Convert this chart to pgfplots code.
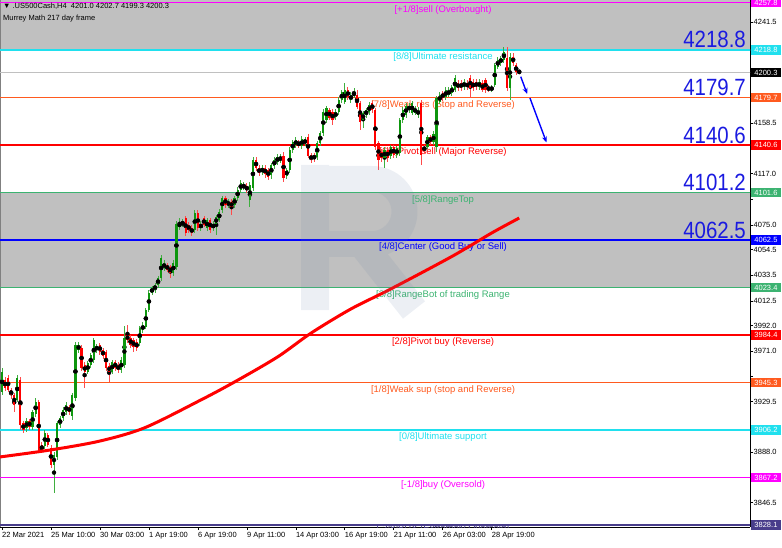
\documentclass[border=0pt]{standalone}
\usepackage{fontspec}
\setmainfont{Liberation Sans}
\newfontfamily\bignum[FakeStretch=0.87]{Liberation Sans}
\usepackage{pgfplots}
\pgfplotsset{compat=1.18}
\usepackage{pgfplotstable}
\usetikzlibrary{arrows.meta}

\definecolor{mmMag}{HTML}{FF00FF}
\definecolor{mmCyan}{HTML}{20E0EE}
\definecolor{mmOrange}{HTML}{FF5A1F}
\definecolor{mmRed}{HTML}{FF0000}
\definecolor{mmGreen}{HTML}{3CB371}
\definecolor{mmBlue}{HTML}{0000FF}
\definecolor{mmSlate}{HTML}{483D8B}
\definecolor{bandGray}{HTML}{C0C0C0}
\definecolor{bull}{HTML}{0E960E}
\definecolor{bullwick}{HTML}{3FAE3F}
\definecolor{bear}{HTML}{FF0000}
\definecolor{bearwick}{HTML}{FF4A4A}
\definecolor{bigBlue}{HTML}{1A1AE0}
\definecolor{wmark}{HTML}{6F86A8}

% H4 candles: bar index, open, high, low, close
\pgfplotstableread{
i o h l c
0 3937.5 3957.3 3935.1 3954.0
1 3947.4 3949.5 3938.5 3940.8
2 3949.0 3951.5 3937.5 3939.2
3 3939.2 3941.0 3932.0 3935.1
4 3935.1 3937.0 3921.1 3926.9
5 3931.0 3951.5 3929.0 3949.0
6 3947.4 3950.0 3906.3 3910.4
7 3912.0 3914.0 3904.0 3906.3
8 3907.9 3916.0 3905.0 3913.7
9 3913.7 3915.0 3906.0 3908.8
10 3908.8 3923.0 3906.0 3921.1
11 3919.4 3932.6 3917.0 3929.3
12 3929.3 3931.0 3888.2 3889.8
13 3894.0 3896.0 3887.0 3889.8
14 3893.1 3906.0 3891.0 3903.8
15 3902.1 3904.0 3892.0 3894.0
16 3891.5 3894.0 3875.0 3877.5
17 3877.5 3888.0 3854.5 3885.7
18 3884.1 3914.0 3882.0 3912.0
19 3910.4 3918.0 3908.0 3916.2
20 3916.2 3925.0 3914.0 3922.7
21 3921.1 3929.0 3919.0 3926.9
22 3925.2 3927.0 3919.0 3921.1
23 3917.8 3937.0 3914.5 3935.1
24 3932.6 3978.6 3930.0 3976.2
25 3972.1 3979.0 3970.0 3976.2
26 3973.7 3976.0 3955.0 3957.3
27 3959.7 3962.0 3940.8 3954.0
28 3954.0 3963.0 3952.0 3961.4
29 3959.7 3970.0 3957.0 3968.0
30 3963.8 3981.9 3961.0 3980.3
31 3972.1 3977.0 3970.0 3975.3
32 3976.2 3978.0 3968.0 3970.4
33 3972.1 3974.0 3965.0 3967.1
34 3970.4 3972.0 3955.0 3957.3
35 3958.9 3961.0 3945.8 3954.0
36 3954.0 3964.0 3952.0 3962.2
37 3962.2 3964.0 3955.0 3957.3
38 3959.7 3962.0 3953.0 3955.6
39 3955.6 3966.0 3953.0 3963.8
40 3959.7 3991.8 3957.0 3981.9
41 3984.4 3992.6 3978.0 3980.3
42 3981.9 3984.0 3974.0 3976.2
43 3980.3 3982.0 3970.4 3974.5
44 3978.6 3981.0 3971.0 3973.7
45 3977.8 3992.0 3975.0 3990.2
46 3988.5 3995.0 3986.0 3992.6
47 3991.0 4007.0 3989.0 4005.0
48 4005.0 4021.0 4003.0 4018.9
49 4018.9 4025.0 4017.0 4023.2
50 4021.4 4027.0 4019.0 4025.5
51 4025.5 4033.0 4023.0 4031.3
52 4031.3 4050.2 4029.0 4047.7
53 4039.5 4046.0 4037.0 4043.6
54 4042.0 4044.0 4036.0 4037.9
55 4040.3 4042.0 4031.3 4035.4
56 4035.4 4046.0 4033.0 4043.6
57 4040.3 4078.0 4038.0 4075.7
58 4073.2 4080.6 4071.0 4076.5
59 4074.9 4080.0 4073.0 4077.3
60 4080.6 4082.3 4065.8 4068.3
61 4074.9 4077.0 4068.0 4070.8
62 4072.4 4075.0 4065.8 4068.3
63 4070.8 4087.0 4068.0 4084.7
64 4084.7 4087.0 4070.0 4072.4
65 4072.4 4078.0 4070.0 4075.7
66 4080.6 4082.0 4073.0 4074.9
67 4072.4 4081.0 4070.0 4079.0
68 4079.0 4081.0 4068.0 4070.8
69 4072.4 4078.0 4070.0 4075.7
70 4075.7 4083.0 4066.7 4081.4
71 4079.0 4088.0 4077.0 4085.6
72 4087.2 4099.0 4085.0 4097.1
73 4097.1 4099.0 4089.0 4091.3
74 4091.3 4096.0 4089.0 4093.8
75 4093.8 4096.0 4083.1 4089.7
76 4091.3 4099.0 4089.0 4097.1
77 4097.1 4106.0 4095.0 4103.6
78 4103.6 4112.0 4101.0 4109.4
79 4106.1 4110.0 4104.0 4107.0
80 4107.0 4109.0 4101.0 4103.6
81 4095.4 4110.0 4089.7 4107.8
82 4105.3 4131.0 4103.0 4128.3
83 4128.3 4131.0 4119.0 4121.7
84 4121.7 4124.0 4115.0 4117.6
85 4118.4 4124.0 4116.0 4121.7
86 4121.7 4124.0 4113.5 4116.8
87 4120.1 4122.0 4112.0 4114.3
88 4116.0 4126.0 4113.0 4124.2
89 4123.4 4131.0 4121.0 4128.3
90 4126.7 4133.0 4124.0 4130.8
91 4128.3 4133.0 4126.0 4130.8
92 4131.6 4134.9 4110.2 4113.5
93 4115.2 4122.0 4113.0 4120.1
94 4120.1 4139.0 4118.0 4136.5
95 4136.5 4145.0 4134.0 4143.1
96 4140.6 4147.0 4138.0 4144.8
97 4143.1 4145.0 4138.0 4140.6
98 4139.8 4148.0 4137.0 4145.6
99 4142.3 4147.0 4140.0 4144.8
100 4147.2 4150.0 4129.9 4131.6
101 4132.4 4134.0 4126.0 4128.3
102 4132.4 4134.0 4127.0 4129.1
103 4130.8 4144.0 4128.0 4142.3
104 4142.3 4152.0 4140.0 4150.5
105 4150.5 4170.0 4148.0 4167.8
106 4161.2 4173.0 4159.0 4171.1
107 4169.4 4171.0 4161.0 4162.9
108 4167.8 4170.0 4157.1 4161.2
109 4163.7 4170.0 4161.0 4167.8
110 4167.8 4180.0 4165.0 4177.7
111 4177.7 4186.0 4175.0 4184.2
112 4176.0 4191.6 4174.0 4185.9
113 4185.9 4188.0 4178.0 4180.1
114 4177.7 4184.0 4175.0 4181.8
115 4180.9 4187.5 4179.0 4184.2
116 4181.8 4185.9 4170.0 4171.9
117 4175.2 4177.0 4153.0 4159.6
118 4161.2 4169.0 4154.6 4167.0
119 4165.3 4171.0 4163.0 4169.4
120 4167.8 4176.0 4165.0 4173.5
121 4175.2 4177.0 4167.0 4169.4
122 4169.4 4171.0 4136.5 4139.0
123 4142.3 4144.0 4120.1 4128.3
124 4134.9 4137.0 4127.0 4129.9
125 4129.9 4139.0 4121.7 4136.5
126 4136.5 4139.0 4127.0 4129.9
127 4131.6 4141.0 4129.0 4139.0
128 4139.0 4141.0 4130.0 4132.4
129 4132.4 4140.0 4130.0 4138.2
130 4134.1 4163.0 4132.0 4161.2
131 4161.2 4172.0 4159.0 4169.4
132 4165.3 4175.0 4163.0 4172.7
133 4169.4 4175.0 4167.0 4172.7
134 4167.0 4177.0 4165.0 4175.2
135 4167.0 4173.0 4165.0 4171.1
136 4165.3 4172.0 4163.0 4169.4
137 4175.2 4177.7 4124.2 4132.4
138 4139.0 4141.0 4134.0 4136.5
139 4139.0 4149.0 4137.0 4147.2
140 4147.2 4149.0 4141.0 4143.1
141 4143.1 4152.0 4141.0 4149.7
142 4139.0 4181.0 4134.9 4179.3
143 4176.0 4184.0 4174.0 4181.8
144 4183.4 4185.0 4177.0 4179.3
145 4180.1 4188.0 4178.0 4185.9
146 4181.8 4188.0 4180.0 4185.9
147 4183.4 4190.0 4181.0 4188.3
148 4185.9 4198.0 4184.0 4195.8
149 4191.6 4194.0 4185.0 4187.5
150 4191.6 4194.0 4185.0 4187.5
151 4188.3 4195.0 4186.0 4192.5
152 4191.6 4194.0 4186.0 4188.3
153 4195.8 4198.0 4179.3 4187.5
154 4192.5 4195.0 4185.0 4187.5
155 4192.5 4195.0 4186.0 4188.3
156 4188.3 4195.0 4186.0 4192.5
157 4191.6 4194.0 4184.0 4185.9
158 4194.1 4196.0 4183.4 4185.9
159 4188.3 4190.0 4184.0 4185.9
160 4185.9 4190.0 4184.0 4188.3
161 4190.0 4208.0 4188.0 4206.4
162 4204.8 4213.0 4203.0 4210.6
163 4208.1 4214.0 4206.0 4212.2
164 4210.6 4221.2 4208.0 4217.1
165 4212.2 4221.2 4185.0 4187.5
166 4187.5 4216.0 4177.7 4213.0
167 4213.0 4216.0 4206.0 4208.1
168 4206.4 4208.0 4198.5 4200.7
169 4201.0 4202.7 4199.3 4200.3
}\candles

\newcommand{\lvl}[3]{%
  \addplot[#2, line width=1.5pt, forget plot] coordinates {(-1,#1) (246,#1)};
  \node[anchor=north, text=#2, inner sep=0pt, yshift=-2.5pt,
        font=\fontsize{9.5}{10}\selectfont] at (axis cs:144.1,#1) {#3};
}
\newcommand{\rbox}[3]{%
  \node[anchor=west, fill=#2, text=white, inner sep=0pt, xshift=0.5pt,
        minimum width=30.5pt, minimum height=9.5pt,
        font=\fontsize{7.5}{8}\selectfont] at (axis cs:244.4,#1) {#3};
}
\newcommand{\bigval}[2]{%
  \node[anchor=base east, text=bigBlue, inner sep=0pt, yshift=2pt,
        font=\bignum\fontsize{23.5}{24}\selectfont] at (axis cs:243.1,#1) {#2};
}

\begin{document}
\begin{tikzpicture}
\begin{axis}[
  width=750pt, height=527pt, scale only axis,
  xmin=-0.65, xmax=244.4, ymin=3826.5, ymax=4259.9,
  clip mode=individual,
  axis x line*=bottom, axis y line*=right,
  axis line style={black, line width=0.8pt},
  tick align=outside, major tick length=3pt,
  tick style={black, line width=0.6pt},
  ytick={3825.5,3846.5,3867.0,3888.0,3908.5,3929.5,3950.5,3971.0,3992.0,4012.5,4033.5,4054.5,4075.0,4096.0,4117.0,4137.5,4158.5,4179.0,4200.0,4220.5,4241.5},
  yticklabels={,3846.5,,3888.0,,3929.5,,3971.0,3992.0,4012.5,4033.5,4054.5,4075.0,,4117.0,,4158.5,,,,4241.5},
  xtick={0,16,32,48,64,80,96,112,128,144,160},
  xticklabels={22 Mar 2021,25 Mar 10:00,30 Mar 03:00,1 Apr 19:00,6 Apr 19:00,9 Apr 11:00,14 Apr 03:00,16 Apr 19:00,21 Apr 11:00,26 Apr 03:00,28 Apr 19:00},
  xticklabel style={anchor=north west, xshift=-0.5pt, yshift=-1.5pt, inner sep=0.5pt},
  yticklabel style={anchor=west, xshift=-1pt, inner sep=1.5pt},
  ticklabel style={font=\fontsize{7.5}{8}\selectfont},
]
% grey zones
\fill[bandGray] (axis cs:-0.65,4218.8) rectangle (axis cs:244.4,4259.9);
\fill[bandGray] (axis cs:-0.65,4023.4) rectangle (axis cs:244.4,4101.6);
% left frame edge
\draw[gray, line width=1.6pt] (axis cs:-0.65,3826.5) -- (axis cs:-0.65,4259.9);

% current price line
\addplot[bandGray, line width=1pt, forget plot] coordinates {(-1,4200.3) (246,4200.3)};

% Murrey Math levels
\lvl{4257.8}{mmMag}{[+1/8]sell (Overbought)}
\lvl{4218.8}{mmCyan}{[8/8]Ultimate resistance}
\lvl{4179.7}{mmOrange}{[7/8]Weak res (Stop and Reverse)}
\lvl{4140.6}{mmRed}{[6/8]Pivot sell (Major Reverse)}
\lvl{4101.6}{mmGreen}{[5/8]RangeTop}
\lvl{4062.5}{mmBlue}{[4/8]Center (Good Buy or Sell)}
\lvl{4023.4}{mmGreen}{[3/8]RangeBot of trading Range}
\lvl{3984.4}{mmRed}{[2/8]Pivot buy (Reverse)}
\lvl{3945.3}{mmOrange}{[1/8]Weak sup (stop and Reverse)}
\lvl{3906.2}{mmCyan}{[0/8]Ultimate support}
\lvl{3867.2}{mmMag}{[-1/8]buy (Oversold)}
\addplot[mmSlate, line width=1.5pt, forget plot] coordinates {(-1,3828.1) (246,3828.1)};
\begin{scope}
  \clip (axis cs:-0.65,3826.5) rectangle (axis cs:244.4,4259.9);
  \node[anchor=north, text=mmSlate, inner sep=0pt, yshift=0.5pt,
        font=\fontsize{9.5}{10}\selectfont] at (axis cs:144.1,3828.1) {[-2/8]BUY (Extremely Oversold)};
\end{scope}

% candles: wicks then bodies
\addplot[only marks, mark=none, forget plot,
  error bars/y dir=both, error bars/y explicit, error bars/error mark=none,
  error bars/error bar style={draw=bullwick, line width=0.9pt}]
  table[x=i, y expr={\thisrow{c}>=\thisrow{o} ? 0.5*(\thisrow{h}+\thisrow{l}) : nan},
        y error expr={0.5*(\thisrow{h}-\thisrow{l})}] {\candles};
\addplot[only marks, mark=none, forget plot,
  error bars/y dir=both, error bars/y explicit, error bars/error mark=none,
  error bars/error bar style={draw=bearwick, line width=0.9pt}]
  table[x=i, y expr={\thisrow{c}<\thisrow{o} ? 0.5*(\thisrow{h}+\thisrow{l}) : nan},
        y error expr={0.5*(\thisrow{h}-\thisrow{l})}] {\candles};
\addplot[only marks, mark=none, forget plot,
  error bars/y dir=both, error bars/y explicit, error bars/error mark=none,
  error bars/error bar style={draw=bull, line width=2.2pt, line cap=butt}]
  table[x=i, y expr={\thisrow{c}>=\thisrow{o} ? 0.5*(\thisrow{o}+\thisrow{c}) : nan},
        y error expr={max(0.5*abs(\thisrow{c}-\thisrow{o}),0.45)}] {\candles};
\addplot[only marks, mark=none, forget plot,
  error bars/y dir=both, error bars/y explicit, error bars/error mark=none,
  error bars/error bar style={draw=bear, line width=2.2pt, line cap=butt}]
  table[x=i, y expr={\thisrow{c}<\thisrow{o} ? 0.5*(\thisrow{o}+\thisrow{c}) : nan},
        y error expr={max(0.5*abs(\thisrow{c}-\thisrow{o}),0.45)}] {\candles};

% 217-period moving average
\addplot[red, line width=3pt, smooth, forget plot] coordinates {
  (-0.7,3884.1) (15.7,3889.8) (32,3897.2) (46.7,3908.2) (65,3931.0) (76,3945.8)
  (90,3966.3) (101,3986.0) (114,4005.8) (127,4022.2) (147,4049.0) (160,4068.3) (169,4080.6)};

% forecast arrows
\addplot[mmBlue, line width=1.4pt, -{Stealth[length=6pt,width=5pt]}, forget plot]
  coordinates {(169.5,4196.8) (171.6,4182.6)};
\addplot[mmBlue, line width=1.4pt, -{Stealth[length=6pt,width=5pt]}, forget plot]
  coordinates {(172.5,4179.3) (177.9,4142.8)};

% big level values
\bigval{4218.8}{4218.8}
\bigval{4179.7}{4179.7}
\bigval{4140.6}{4140.6}
\bigval{4101.6}{4101.2}
\bigval{4062.5}{4062.5}

% header
\node[anchor=north west, inner sep=0pt, font=\fontsize{7.5}{8}\selectfont]
  at (axis cs:0.3,4257.5) {▼ .US500Cash,H4\ \ 4201.0 4202.7 4199.3 4200.3};
\node[anchor=north west, inner sep=0pt, font=\fontsize{7.5}{8}\selectfont]
  at (axis cs:0.3,4247.6) {Murrey Math 217 day frame};

% price boxes on the right scale
\rbox{4257.8}{mmMag}{4257.8}
\rbox{4218.8}{mmCyan}{4218.8}
\rbox{4200.3}{black}{4200.3}
\rbox{4179.7}{mmOrange}{4179.7}
\rbox{4140.6}{mmRed}{4140.6}
\rbox{4101.6}{mmGreen}{4101.6}
\rbox{4062.5}{mmBlue}{4062.5}
\rbox{4023.4}{mmGreen}{4023.4}
\rbox{3984.4}{mmRed}{3984.4}
\rbox{3945.3}{mmOrange}{3945.3}
\rbox{3906.2}{mmCyan}{3906.2}
\rbox{3867.2}{mmMag}{3867.2}
\rbox{3828.1}{mmSlate}{3828.1}
\end{axis}
% faint broker watermark (drawn as a shape)
\begin{scope}[transparency group, opacity=0.13, x=1pt, y=1pt]
  \draw[wmark, line width=28pt] (315,362) -- (315,217);
  \draw[wmark, line width=26pt, line join=round]
    (315,348) -- (372,348) arc[start angle=90, end angle=-90, radius=32.5] -- (315,283);
  \draw[wmark, line width=28pt] (362,283) -- (414,217);
\end{scope}
\pgfresetboundingbox
\useasboundingbox (0,-20pt) rectangle (782pt,527pt);
\end{tikzpicture}
\end{document}
